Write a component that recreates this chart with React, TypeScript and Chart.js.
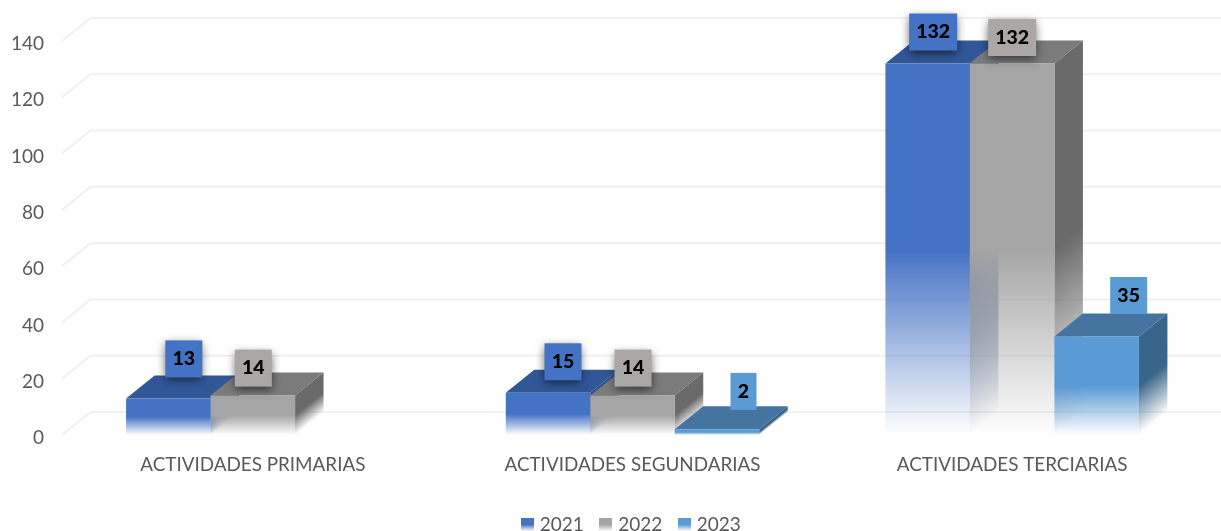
import React, { useEffect, useRef } from "react";
import { Chart, registerables } from "chart.js";

Chart.register(...registerables);

const categories = ["ACTIVIDADES PRIMARIAS", "ACTIVIDADES SEGUNDARIAS", "ACTIVIDADES TERCIARIAS"];
const seriesNames = ["2021", "2022", "2023"];
const values2021 = [13, 15, 132];
const values2022 = [14, 14, 132];
const values2023 = [null, 2, 35];
const yTicksMax = 140;
const yTickStep = 20;

// styling, not data
const FONT = "Lato";
const TEXT = "#595959";
const GRID = "#f0f0f0";
const DX = 28.5;
const DY = 23;
const palettes = [
  { front: [68, 114, 196], top: "#315797", side: [42, 78, 140], box: "#4472C4", shadow: true },
  { front: [165, 165, 165], top: "#7B7B7B", side: [106, 106, 106], box: "#ABA7A7", shadow: true },
  { front: [91, 155, 213], top: "#44749F", side: [58, 101, 138], box: "#5B9BD5", shadow: false },
];
const labelShiftX = [[15.5, 15, 5.5], [0.5, 0.5, 0], [0, 26.5, 32]];
const labelShiftY = [[-39.5, -31, -31.5], [-27.5, -27.5, -26], [0, -38, -41]];

const fade = (ctx: CanvasRenderingContext2D, rgb: number[], y0: number, y1: number) => {
  const g = ctx.createLinearGradient(0, y0, 0, y1);
  const c = rgb.join(",");
  g.addColorStop(0, `rgba(${c},1)`);
  g.addColorStop(0.5, `rgba(${c},1)`);
  g.addColorStop(1, `rgba(${c},0)`);
  return g;
};

const frontFill = (i: number) => (c: any) => {
  const rgb = palettes[i].front;
  const s = c.chart.scales?.y;
  if (!s || c.raw == null) return `rgb(${rgb.join(",")})`;
  return fade(c.chart.ctx, rgb, s.getPixelForValue(c.raw), s.getPixelForValue(0));
};

const legendMark = (i: number) => {
  const cv = document.createElement("canvas");
  cv.width = 13;
  cv.height = 13;
  const x = cv.getContext("2d")!;
  x.fillStyle = fade(x, palettes[i].front, 0, 13);
  x.fillRect(0, 0, 13, 13);
  return cv;
};

const depthPlugin = {
  id: "depth",
  beforeDatasetsDraw(chart: any) {
    const { ctx, scales } = chart;
    const { x: xs, y: ys } = scales;
    ctx.save();
    ctx.strokeStyle = GRID;
    ctx.lineWidth = 2;
    for (const t of ys.ticks) {
      const y = ys.getPixelForValue(t.value);
      ctx.beginPath();
      ctx.moveTo(xs.left - 1, y);
      ctx.lineTo(xs.left - 1 + DX, y - DY);
      ctx.lineTo(chart.width, y - DY);
      ctx.stroke();
    }
    seriesNames.forEach((_, d) => {
      const p = palettes[d];
      chart.getDatasetMeta(d).data.forEach((bar: any, i: number) => {
        const v = chart.data.datasets[d].data[i];
        if (v == null) return;
        const l = bar.x - bar.width / 2;
        const r = l + bar.width;
        const top = bar.y;
        const base = ys.getPixelForValue(0);
        ctx.fillStyle = p.top;
        ctx.beginPath();
        ctx.moveTo(l, top);
        ctx.lineTo(r, top);
        ctx.lineTo(r + DX, top - DY);
        ctx.lineTo(l + DX, top - DY);
        ctx.closePath();
        ctx.fill();
        ctx.save();
        ctx.transform(1, -DY / DX, 0, 1, r, 0);
        ctx.fillStyle = fade(ctx, p.side, top, base);
        ctx.fillRect(0, top, DX, base - top);
        ctx.restore();
      });
    });
    ctx.restore();
  },
  afterDatasetsDraw(chart: any) {
    const { ctx } = chart;
    seriesNames.forEach((_, d) => {
      const p = palettes[d];
      chart.getDatasetMeta(d).data.forEach((bar: any, i: number) => {
        const v = chart.data.datasets[d].data[i];
        if (v == null) return;
        const txt = String(v);
        const w = txt.length === 1 ? 26 : txt.length === 2 ? 37 : 48;
        const h = 37;
        const cx = bar.x + labelShiftX[d][i];
        const cy = bar.y + labelShiftY[d][i];
        ctx.save();
        if (p.shadow) {
          ctx.shadowColor = "rgba(0,0,0,0.6)";
          ctx.shadowBlur = 9;
          ctx.shadowOffsetY = 3;
        }
        ctx.fillStyle = p.box;
        ctx.fillRect(cx - w / 2, cy - h / 2, w, h);
        ctx.restore();
        ctx.save();
        ctx.fillStyle = "#000";
        ctx.font = `900 19.5px ${FONT}`;
        ctx.textAlign = "center";
        ctx.textBaseline = "middle";
        ctx.fillText(txt, cx, cy);
        ctx.restore();
      });
    });
  },
};

export default function App() {
  const ref = useRef<HTMLCanvasElement>(null);
  useEffect(() => {
    const chart = new Chart(ref.current!, {
      type: "bar",
      data: {
        labels: categories,
        datasets: [values2021, values2022, values2023].map((data, i) => ({
          label: seriesNames[i],
          data,
          backgroundColor: frontFill(i),
          borderWidth: 0,
          categoryPercentage: 0.6677,
          barPercentage: 1,
          clip: false as any,
        })),
      },
      options: {
        animation: false,
        responsive: false,
        layout: { padding: { top: 41, right: 19, left: 0, bottom: -13 } },
        scales: {
          x: {
            grid: { display: false, drawTicks: false },
            border: { display: false },
            ticks: { color: TEXT, font: { family: FONT, size: 18.85 }, padding: 19, maxRotation: 0 },
            afterFit: (s: any) => { s.height = 61; },
          },
          y: {
            min: 0,
            max: yTicksMax,
            grid: { display: false, drawTicks: false },
            border: { display: false },
            ticks: { stepSize: yTickStep, color: TEXT, font: { family: FONT, size: 19 }, padding: 19, labelOffset: 3 },
            afterFit: (s: any) => { s.width = 63; },
          },
        },
        plugins: {
          tooltip: { enabled: false },
          legend: {
            position: "bottom",
            fullSize: false,
            labels: {
              color: TEXT,
              font: { family: FONT, size: 19 },
              padding: 19,
              usePointStyle: true,
              pointStyleWidth: 6,
              generateLabels: () =>
                seriesNames.map((text, i) => ({
                  text,
                  datasetIndex: i,
                  fontColor: TEXT,
                  hidden: false,
                  pointStyle: legendMark(i),
                })) as any,
            },
          },
        },
      },
      plugins: [depthPlugin],
    } as any);
    return () => chart.destroy();
  }, []);
  return (
    <div style={{ position: "fixed", left: 0, top: 0, width: 1221, height: 531, overflow: "hidden", background: "#fff" }}>
      <canvas ref={ref} width={1221} height={531} style={{ display: "block" }} />
    </div>
  );
}
